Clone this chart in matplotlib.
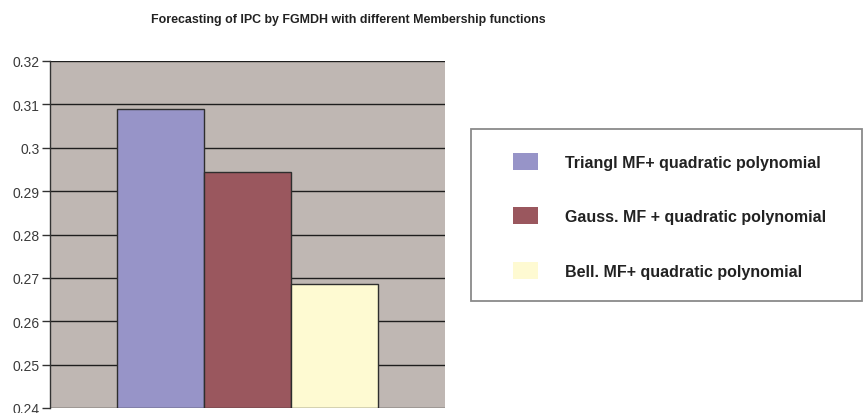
import matplotlib.pyplot as plt
from matplotlib.patches import Rectangle

plt.rcParams['font.family'] = ['Liberation Sans', 'DejaVu Sans']

# forecast error of each membership function variant
series = [
    "Triangl MF+ quadratic polynomial",
    "Gauss. MF + quadratic polynomial",
    "Bell. MF+ quadratic polynomial",
]
values = [0.309, 0.2944, 0.2686]
colors = ["#9794c8", "#9a575e", "#fefad2"]
yticks = [0.24, 0.25, 0.26, 0.27, 0.28, 0.29, 0.30, 0.31, 0.32]

W, H = 864, 414
fig = plt.figure(figsize=(W / 100, H / 100), dpi=100)
fig.patch.set_facecolor("white")

ax = fig.add_axes([50 / W, 1 - 409 / H, 395 / W, 347 / H])
ax.set_facecolor("#bfb7b3")

bw = 0.221
for i, (lab, v, c) in enumerate(zip(series, values, colors)):
    x = (i - 1) * bw
    ax.bar(x, v - 0.24, bottom=0.24, width=bw, color=c, edgecolor="#2e2e2e",
           linewidth=1.0, label=lab, zorder=3)

ax.set_xlim(-0.5, 0.5)
ax.set_ylim(0.24, 0.32)
ax.set_yticks(yticks)
ax.set_yticklabels([f"{t:g}" for t in yticks])
ax.set_xticks([])
ax.grid(axis="y", color="#1e1e1e", linewidth=1.0, zorder=1)
ax.set_axisbelow(True)
for s in ["top", "right", "bottom"]:
    ax.spines[s].set_visible(False)
ax.spines["left"].set_color("#333333")
ax.spines["left"].set_linewidth(1.0)
ax.tick_params(axis="y", direction="out", length=6, width=1.0, color="#333333",
               labelsize=10, labelcolor="#3a3a3a", pad=1.5)

fig.text(348 / W, 1 - 20 / H, "Forecasting of IPC by FGMDH with different Membership functions",
         ha="center", va="center", fontsize=8.9, fontweight="bold", color="#222222")

# legend box outline
fig.patches.append(Rectangle((471 / W, 1 - 302 / H), (W - 2 - 471) / W, 172 / H,
                             transform=fig.transFigure, fill=False,
                             edgecolor="#8a8a8a", linewidth=1.3))

handles, labels = ax.get_legend_handles_labels()
leg = fig.legend(handles, labels, loc="upper left",
                 bbox_to_anchor=(513 / W, 1 - 154 / H), frameon=False,
                 prop={"size": 11.5, "weight": "bold"},
                 handlelength=1.56, handleheight=1.25, handletextpad=1.7,
                 labelspacing=2.35, borderpad=0, borderaxespad=0)
for h in leg.legend_handles:
    h.set_edgecolor("none")
for t in leg.get_texts():
    t.set_color("#222222")

fig.savefig("out.png", dpi=100)
